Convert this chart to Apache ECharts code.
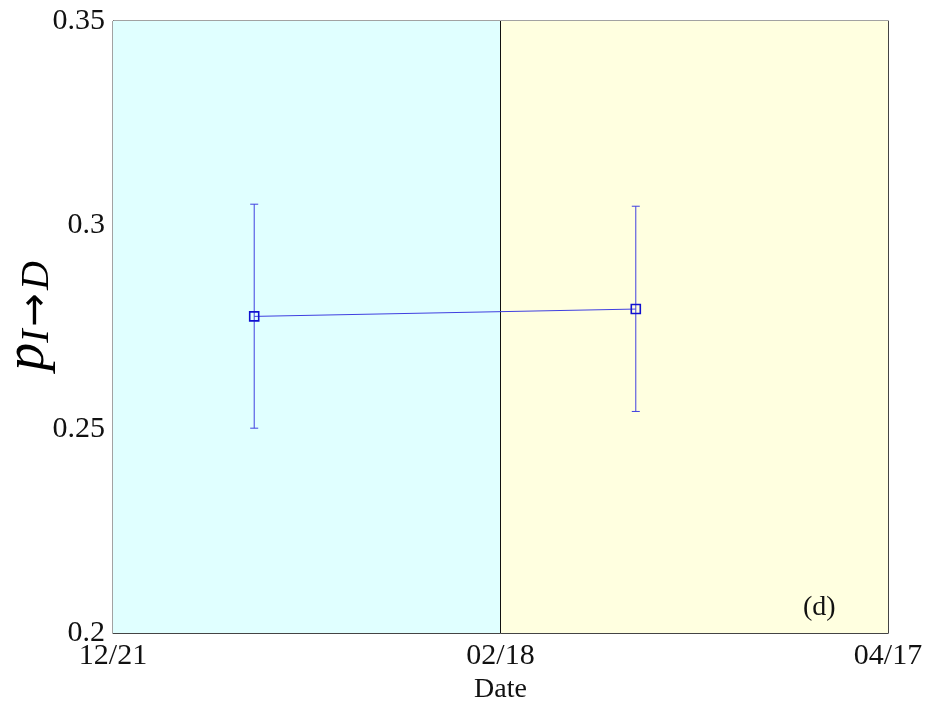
<!DOCTYPE html>
<html>
<head>
<meta charset="utf-8">
<script src="https://cdn.jsdelivr.net/npm/echarts@6/dist/echarts.min.js"></script>
<style>html,body{margin:0;padding:0;background:#fff}#c{width:932px;height:708px}</style>
</head>
<body>
<div id="c"></div>
<script>
// Tick labels on the date axis (day offsets 0, 59, 118 from 12/21)
var xTickLabels = ['12/21', '02/18', '04/17'];
var xTickDays = [0, 59, 118];
// Estimated points (day offset from 12/21)
var pointDays = [21.5, 79.6];
var pointValues = [0.2776, 0.2794];
var errLow = [0.2502, 0.2543];
var errHigh = [0.3051, 0.3046];
// Shaded periods
var periods = [[0, 59], [59, 118]];
var periodColors = ['#e0ffff', '#ffffe0'];

var FONT = '"Liberation Serif", "DejaVu Serif", serif';
var chart = echarts.init(document.getElementById('c'));

var lineData = pointDays.map(function (d, i) { return [d, pointValues[i]]; });
var errData = pointDays.map(function (d, i) { return [d, errLow[i], errHigh[i]]; });

chart.setOption({
  animation: false,
  grid: { left: 113, right: 44, top: 21, bottom: 75, show: true, borderColor: '#444', borderWidth: 1, backgroundColor: 'transparent', containLabel: false, outerBoundsMode: 'none' },
  xAxis: [{
    type: 'value', min: 0, max: 118, interval: 59,
    name: 'Date', nameLocation: 'middle', nameGap: 40,
    nameTextStyle: { fontFamily: FONT, fontSize: 28, color: '#111' },
    axisLine: { show: true, lineStyle: { color: '#444' } },
    axisTick: { show: true, inside: true, length: 8, lineStyle: { color: '#444' } },
    splitLine: { show: false },
    axisLabel: {
      fontFamily: FONT, fontSize: 30, color: '#111', margin: 8,
      formatter: function (v) { var i = xTickDays.indexOf(v); return i >= 0 ? xTickLabels[i] : ''; }
    }
  }],
  yAxis: [{
    type: 'value', min: 0.2, max: 0.35, interval: 0.05,
    axisLine: { show: true, lineStyle: { color: '#444' } },
    axisTick: { show: true, inside: true, length: 8, lineStyle: { color: '#444' } },
    splitLine: { show: false },
    axisLabel: { fontFamily: FONT, fontSize: 30, color: '#111', margin: 8 }
  }, {
    type: 'value', min: 0.2, max: 0.35, interval: 0.05, position: 'right',
    axisLine: { show: true, lineStyle: { color: '#444' } },
    axisTick: { show: true, inside: true, length: 8, lineStyle: { color: '#444' } },
    splitLine: { show: false },
    axisLabel: { show: false }
  }],
  graphic: [{
    type: 'text', x: 28, y: 316, rotation: Math.PI / 2, z: 100,
    style: {
      x: 0, y: 0, align: 'center', verticalAlign: 'middle',
      text: '{p|p}{s|I}{a|\u2192}{s|D}',
      rich: {
        p: { fontFamily: FONT, fontStyle: 'italic', fontSize: 56, fill: '#000' },
        s: { fontFamily: FONT, fontStyle: 'italic', fontSize: 40, fill: '#000', padding: [18, 0, 0, 0] },
        a: { fontFamily: '"DejaVu Sans"', fontSize: 40, fill: '#000', padding: [18, 3, 0, 3] }
      }
    }
  }, {
    type: 'text', x: 803, y: 608, z: 100,
    style: { text: '(d)', fontFamily: FONT, fontSize: 28, fill: '#111', align: 'left', verticalAlign: 'middle' }
  }],
  series: [{
    type: 'line',
    data: lineData,
    symbol: 'rect', symbolSize: 9,
    itemStyle: { color: 'transparent', borderColor: '#1010d0', borderWidth: 1.6 },
    lineStyle: { color: '#4040e0', width: 1 },
    z: 5,
    markArea: {
      silent: true,
      data: periods.map(function (p, i) {
        return [{ xAxis: p[0], itemStyle: { color: periodColors[i] } }, { xAxis: p[1] }];
      })
    },
    markLine: {
      silent: true, symbol: 'none', label: { show: false },
      lineStyle: { color: '#111', width: 1, type: 'solid' },
      data: [{ xAxis: periods[0][1] }]
    }
  }, {
    type: 'custom',
    data: errData,
    z: 4,
    renderItem: function (params, api) {
      var x = api.value(0);
      var lo = api.coord([x, api.value(1)]);
      var hi = api.coord([x, api.value(2)]);
      var c = 4;
      var st = { stroke: '#4040e0', lineWidth: 1, fill: null };
      return {
        type: 'group',
        children: [
          { type: 'line', shape: { x1: lo[0], y1: lo[1], x2: hi[0], y2: hi[1] }, style: st },
          { type: 'line', shape: { x1: lo[0] - c, y1: lo[1], x2: lo[0] + c, y2: lo[1] }, style: st },
          { type: 'line', shape: { x1: hi[0] - c, y1: hi[1], x2: hi[0] + c, y2: hi[1] }, style: st }
        ]
      };
    }
  }]
});
</script>
</body>
</html>
